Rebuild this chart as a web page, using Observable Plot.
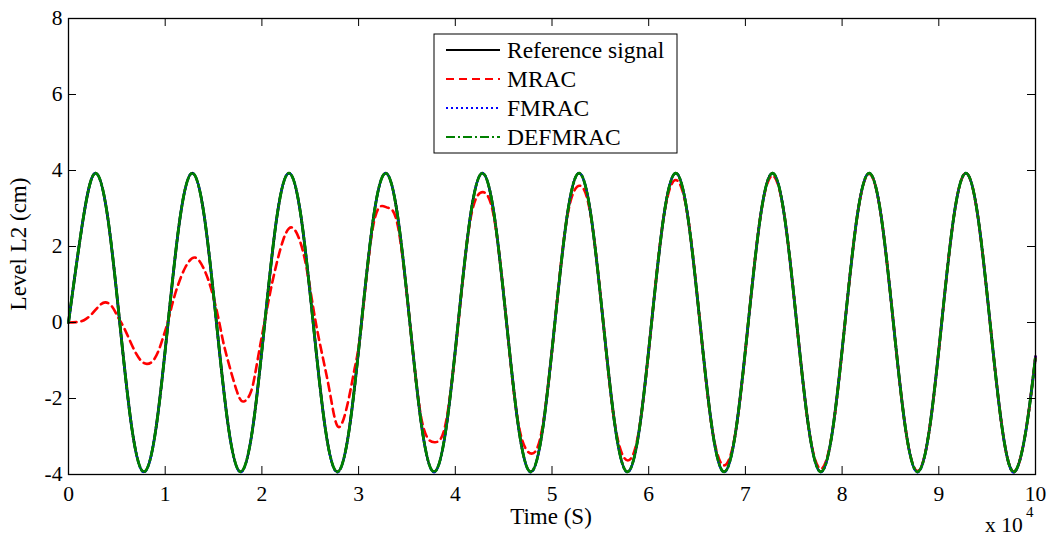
<!DOCTYPE html>
<html><head><meta charset="utf-8">
<script src="https://cdn.jsdelivr.net/npm/d3@7"></script>
<script src="https://cdn.jsdelivr.net/npm/@observablehq/plot@0.6"></script>
<style>body{margin:0;background:#fff;}</style>
</head><body><div id="chart"></div>
<script>
// ---- data (time in units of 10^4 s, level in cm) ----
const xTicks = [0, 1, 2, 3, 4, 5, 6, 7, 8, 9, 10];
const yTicks = [-4, -2, 0, 2, 4, 6, 8];
const seriesNames = ["Reference signal", "MRAC", "FMRAC", "DEFMRAC"];
const seriesColors = ["#000000", "#ff0000", "#0000ff", "#008000"];
const seriesDash = [null, "8,5", "2,3", "9,3,2,3"];

const refTime = [
  0, 0.155, 0.28, 0.405, 0.53, 0.655, 0.78, 0.905,
  1.03, 1.155, 1.28, 1.405, 1.53, 1.655, 1.78, 1.905,
  2.03, 2.155, 2.28, 2.405, 2.53, 2.655, 2.78, 2.905,
  3.03, 3.155, 3.28, 3.405, 3.53, 3.655, 3.78, 3.905,
  4.03, 4.155, 4.28, 4.405, 4.53, 4.655, 4.78, 4.905,
  5.03, 5.155, 5.28, 5.405, 5.53, 5.655, 5.78, 5.905,
  6.03, 6.155, 6.28, 6.405, 6.53, 6.655, 6.78, 6.905,
  7.03, 7.155, 7.28, 7.405, 7.53, 7.655, 7.78, 7.905,
  8.03, 8.155, 8.28, 8.405, 8.53, 8.655, 8.78, 8.905,
  9.03, 9.155, 9.28, 9.405, 9.53, 9.655, 9.78, 9.905,
  10
];
const refLevel = [
  0, 2.78, 3.93, 2.78, 0, -2.78, -3.93, -2.78,
  0, 2.78, 3.93, 2.78, 0, -2.78, -3.93, -2.78,
  0, 2.78, 3.93, 2.78, 0, -2.78, -3.93, -2.78,
  0, 2.78, 3.93, 2.78, 0, -2.78, -3.93, -2.78,
  0, 2.78, 3.93, 2.78, 0, -2.78, -3.93, -2.78,
  0, 2.78, 3.93, 2.78, 0, -2.78, -3.93, -2.78,
  0, 2.78, 3.93, 2.78, 0, -2.78, -3.93, -2.78,
  0, 2.78, 3.93, 2.78, 0, -2.78, -3.93, -2.78,
  0, 2.78, 3.93, 2.78, 0, -2.78, -3.93, -2.78,
  0, 2.78, 3.93, 2.78, 0, -2.78, -3.93, -2.78,
  -0.9
];
const fmracLevel = [
  0, 2.78, 3.93, 2.78, 0, -2.78, -3.94, -2.78,
  0, 2.78, 3.93, 2.78, 0, -2.78, -3.94, -2.78,
  0, 2.78, 3.93, 2.78, 0, -2.78, -3.94, -2.78,
  0, 2.78, 3.93, 2.78, 0, -2.78, -3.94, -2.78,
  0, 2.78, 3.93, 2.78, 0, -2.78, -3.94, -2.78,
  0, 2.78, 3.93, 2.78, 0, -2.78, -3.94, -2.78,
  0, 2.78, 3.93, 2.78, 0, -2.78, -3.94, -2.78,
  0, 2.78, 3.93, 2.78, 0, -2.78, -3.94, -2.78,
  0, 2.78, 3.93, 2.78, 0, -2.78, -3.94, -2.78,
  0, 2.78, 3.93, 2.78, 0, -2.78, -3.94, -2.78,
  -0.9
];
const defmracLevel = [
  0, 2.78, 3.93, 2.78, 0, -2.78, -3.93, -2.78,
  0, 2.78, 3.93, 2.78, 0, -2.78, -3.93, -2.78,
  0, 2.78, 3.93, 2.78, 0, -2.78, -3.93, -2.78,
  0, 2.78, 3.93, 2.78, 0, -2.78, -3.93, -2.78,
  0, 2.78, 3.93, 2.78, 0, -2.78, -3.93, -2.78,
  0, 2.78, 3.93, 2.78, 0, -2.78, -3.93, -2.78,
  0, 2.78, 3.93, 2.78, 0, -2.78, -3.93, -2.78,
  0, 2.78, 3.93, 2.78, 0, -2.78, -3.93, -2.78,
  0, 2.78, 3.93, 2.78, 0, -2.78, -3.93, -2.78,
  0, 2.78, 3.93, 2.78, 0, -2.78, -3.93, -2.78,
  -0.9
];

const mracTime = [
  0, 0.08, 0.16, 0.24, 0.31, 0.38, 0.45, 0.51, 0.57, 0.63, 0.70, 0.76, 0.81, 0.87, 0.93, 0.98,
  1.02, 1.06, 1.12, 1.21, 1.31, 1.40, 1.47, 1.54, 1.59, 1.64, 1.74, 1.81, 1.89, 1.96,
  2.05, 2.12, 2.22, 2.31, 2.39, 2.46, 2.53, 2.60, 2.70, 2.79, 2.89, 2.96,
  3.03, 3.155, 3.29, 3.405, 3.53, 3.655, 3.79, 3.905,
  4.03, 4.155, 4.285, 4.405, 4.53, 4.655, 4.79, 4.905,
  5.03, 5.155, 5.285, 5.405, 5.53, 5.655, 5.785, 5.905,
  6.03, 6.155, 6.28, 6.405, 6.53, 6.655, 6.78, 6.905,
  7.03, 7.155, 7.28, 7.405, 7.53, 7.655, 7.78, 7.905,
  8.03, 8.155, 8.28, 8.405, 8.53, 8.655, 8.78, 8.905,
  9.03, 9.155, 9.28, 9.405, 9.53, 9.655, 9.78, 9.905,
  10
];
const mracLevel = [
  0, 0.01, 0.06, 0.22, 0.42, 0.53, 0.42, 0.15, -0.12, -0.45, -0.82, -1.03, -1.09, -1.02, -0.75, -0.38,
  -0.05, 0.35, 0.89, 1.46, 1.71, 1.41, 0.93, 0.23, -0.39, -0.92, -1.80, -2.08, -1.80, -0.92,
  0.32, 1.20, 2.17, 2.50, 2.17, 1.46, 0.40, -0.56, -1.80, -2.75, -2.10, -1.20,
  -0.05, 2.60, 3.03, 2.55, 0, -2.60, -3.15, -2.60,
  -0.05, 2.70, 3.43, 2.70, 0, -2.70, -3.45, -2.70,
  0, 2.75, 3.60, 2.75, 0, -2.75, -3.63, -2.75,
  0, 2.78, 3.75, 2.78, 0, -2.78, -3.76, -2.78,
  0, 2.78, 3.86, 2.78, 0, -2.78, -3.85, -2.78,
  0, 2.78, 3.91, 2.78, 0, -2.78, -3.91, -2.78,
  0, 2.78, 3.93, 2.78, 0, -2.78, -3.93, -2.78,
  -0.9
];

// ---- layout ----
const W = 1051, H = 538, mL = 68, mR = 16, mT = 18, mB = 64;
const innerW = W - mL - mR, innerH = H - mT - mB;
const font = "'Liberation Serif', 'Times New Roman', Times, 'DejaVu Serif', serif";
const rows = (t, v) => t.map((x, i) => ({t: x, v: v[i]}));
const seriesData = [
  rows(refTime, refLevel),
  rows(mracTime, mracLevel),
  rows(refTime, fmracLevel),
  rows(refTime, defmracLevel)
];
const widths = [2.8, 2.6, 2.4, 2.8];

const svg = Plot.plot({
  width: W, height: H,
  marginLeft: mL, marginRight: mR, marginTop: mT, marginBottom: mB,
  style: {fontFamily: font, fontSize: "21px", background: "#fff", color: "#000", overflow: "visible"},
  x: {domain: [0, 10]},
  y: {domain: [-4, 8]},
  marks: [
    ...seriesData.map((d, i) => Plot.line(d, {
      x: "t", y: "v", curve: "natural",
      stroke: seriesColors[i], strokeWidth: widths[i],
      strokeDasharray: seriesDash[i] ?? undefined
    })),
    Plot.ruleX(xTicks, {insetTop: innerH - 8, stroke: "#000"}),
    Plot.ruleX(xTicks, {insetBottom: innerH - 8, stroke: "#000"}),
    Plot.ruleY(yTicks, {insetRight: innerW - 8, stroke: "#000"}),
    Plot.ruleY(yTicks, {insetLeft: innerW - 8, stroke: "#000"}),
    Plot.frame({stroke: "#000", strokeWidth: 1.3}),
    Plot.axisX(xTicks, {tickSize: 0, tickPadding: 11, label: null, tickFormat: d => `${d}`, fontSize: 21.5, fontFamily: font}),
    Plot.axisY(yTicks, {tickSize: 0, tickPadding: 6, label: null, tickFormat: d => `${d}`, fontSize: 21.5, fontFamily: font})
  ]
});

const s = d3.select(svg);
const addText = (x, y, size, str, anchor) => s.append("text")
  .attr("x", x).attr("y", y).attr("text-anchor", anchor)
  .attr("font-family", font).attr("font-size", size).attr("fill", "#000")
  .style("font-family", font).style("font-size", size + "px")
  .text(str);
// axis labels
addText(0, 0, 23, "Level L2 (cm)", "middle")
  .attr("transform", "translate(18,244) rotate(-90)").attr("dy", "0.35em");
addText(551, 524, 23, "Time (S)", "middle");
addText(985, 532, 21.5, "x 10", "start");
addText(1026, 517, 15, "4", "start");

// legend
const lg = s.append("g");
lg.append("rect").attr("x", 434).attr("y", 34).attr("width", 243).attr("height", 119)
  .attr("fill", "#fff").attr("stroke", "#000").attr("stroke-width", 1);
const rowY = [50, 79, 108, 137];
seriesNames.forEach((name, i) => {
  const ln = lg.append("line").attr("x1", 446).attr("x2", 500)
    .attr("y1", rowY[i]).attr("y2", rowY[i])
    .attr("stroke", seriesColors[i]).attr("stroke-width", 2.2);
  if (seriesDash[i]) ln.attr("stroke-dasharray", seriesDash[i]);
  lg.append("text").attr("x", 507).attr("y", rowY[i] + 8).attr("text-anchor", "start")
    .attr("font-family", font).style("font-family", font).style("font-size", "23.5px").attr("fill", "#000")
    .text(name);
});

document.getElementById("chart").appendChild(svg);
</script>
</body></html>
